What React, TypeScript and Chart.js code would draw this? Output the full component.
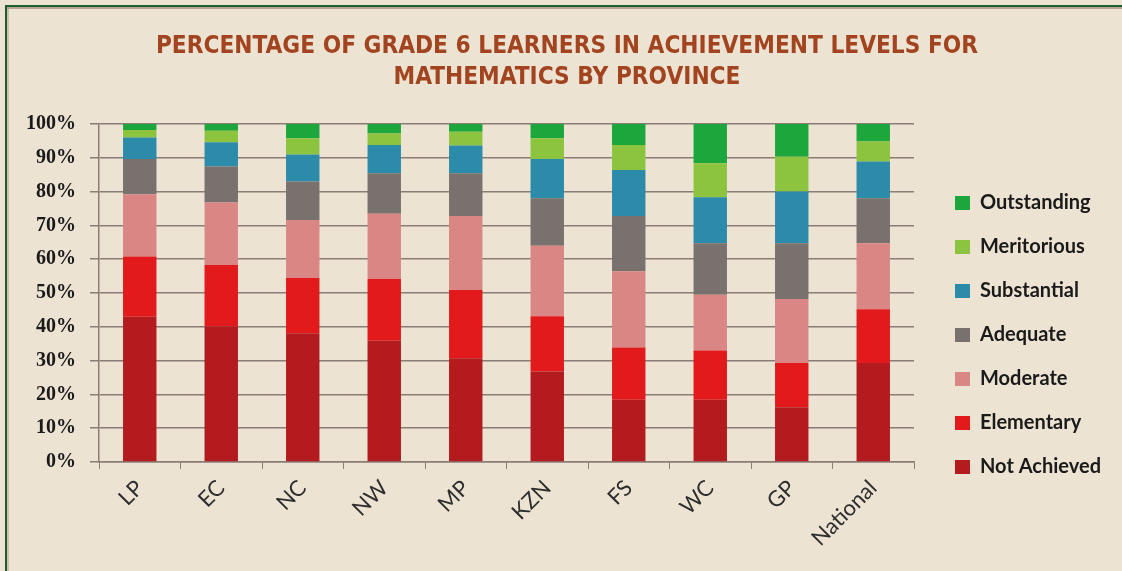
import React, { useEffect, useRef } from 'react';
import { Chart, registerables } from 'chart.js';

Chart.register(...registerables);

const categories = ['LP', 'EC', 'NC', 'NW', 'MP', 'KZN', 'FS', 'WC', 'GP', 'National'];
const notAchieved = [43.0, 40.1, 38.1, 35.9, 30.7, 26.8, 18.4, 18.4, 16.2, 29.3];
const elementary = [17.8, 18.2, 16.3, 18.2, 20.2, 16.3, 15.5, 14.6, 13.1, 15.9];
const moderate = [18.4, 18.5, 17.2, 19.3, 21.9, 20.9, 22.5, 16.5, 18.9, 19.5];
const adequate = [10.4, 10.6, 11.4, 12.0, 12.6, 14.0, 16.4, 15.2, 16.5, 13.3];
const substantial = [6.4, 7.2, 8.0, 8.4, 8.2, 11.6, 13.6, 13.6, 15.3, 10.9];
const meritorious = [2.2, 3.4, 4.8, 3.4, 4.1, 6.2, 7.4, 10.1, 10.3, 5.9];
const outstanding = [1.8, 2.0, 4.2, 2.8, 2.3, 4.2, 6.2, 11.6, 9.7, 5.2];

const seriesNames = ['Not Achieved', 'Elementary', 'Moderate', 'Adequate', 'Substantial', 'Meritorious', 'Outstanding'];
const seriesColors = ['#B31B1F', '#E31A1C', '#D98684', '#78716E', '#2B8BA9', '#8DC43F', '#1DA63C'];
const seriesValues = [notAchieved, elementary, moderate, adequate, substantial, meritorious, outstanding];

const titleLines = ['PERCENTAGE OF GRADE 6 LEARNERS IN ACHIEVEMENT LEVELS FOR', 'MATHEMATICS BY PROVINCE'];

const BG = '#ECE3D3';
const GRID = '#8A7D75';

export default function App() {
  const ref = useRef<HTMLCanvasElement>(null);

  useEffect(() => {
    if (!ref.current) return;
    const placer = {
      id: 'placer',
      afterLayout(chart: any) {
        const lg = chart.legend;
        if (lg) {
          lg.left = 931;
          lg.right = 1122;
          lg.width = 1122 - 931;
          lg.top = 169;
          lg.bottom = 571;
          lg.height = 571 - 169;
        }
        const t = chart.titleBlock;
        if (t) {
          t.left = 12;
          t.right = 1122;
          t.width = 1110;
        }
      },
    };
    const chart = new Chart(ref.current, {
      type: 'bar',
      data: {
        labels: categories,
        datasets: seriesNames.map((name, i) => ({
          label: name,
          data: seriesValues[i],
          backgroundColor: seriesColors[i],
          borderWidth: 0,
          categoryPercentage: 1,
          barPercentage: 0.41,
        })),
      },
      options: {
        responsive: false,
        animation: false,
        devicePixelRatio: 1,
        layout: { padding: { left: 12, right: 58, top: 0, bottom: 0 } },
        plugins: {
          title: {
            display: true,
            text: titleLines,
            color: '#A2441F',
            font: { family: '"Liberation Sans Narrow", "DejaVu Sans Condensed", "Liberation Sans", sans-serif', size: 24.2, weight: 'bold', lineHeight: 1.28 },
            padding: { top: 31, bottom: 31 },
          },
          legend: {
            display: true,
            position: 'right',
            align: 'start',
            reverse: true,
            maxWidth: 150,
            labels: {
              boxWidth: 15,
              boxHeight: 14,
              padding: 24,
              color: '#1A1A1A',
              font: { family: 'Lato, "Open Sans", sans-serif', size: 20, weight: 'bold' },
            },
          },
          tooltip: { enabled: false },
        },
        scales: {
          x: {
            stacked: true,
            afterFit: (s: any) => { s.height = 109; },
            grid: { display: true, drawOnChartArea: false, drawTicks: true, tickLength: 7, color: GRID, offset: true },
            border: { display: true, color: GRID, width: 1.5 },
            ticks: {
              autoSkip: false,
              minRotation: 45,
              maxRotation: 45,
              padding: 6,
              color: '#2E2E2E',
              font: { family: 'Lato, "Open Sans", sans-serif', size: 22 },
            },
          },
          y: {
            stacked: true,
            min: 0,
            max: 100,
            afterFit: (s: any) => { s.width = 87; },
            grid: { color: GRID, lineWidth: 1.5, tickLength: 9, drawTicks: true },
            border: { display: true, color: GRID, width: 1.5 },
            ticks: {
              stepSize: 10,
              padding: 14,
              color: '#1A1A1A',
              font: { family: '"Liberation Serif", "DejaVu Serif", serif', size: 20, weight: 'bold' },
              callback: (v: any) => v + '%',
            },
          },
        },
      },
      plugins: [placer],
    });
    return () => chart.destroy();
  }, []);

  return (
    <div style={{ position: 'absolute', left: 0, top: 0, width: 1122, height: 571, background: BG, overflow: 'hidden' }}>
      <div style={{ position: 'absolute', left: 5, top: 5, right: 0, height: 2, background: '#1B5E2C' }} />
      <div style={{ position: 'absolute', left: 7, top: 7, right: 0, height: 2, background: '#B9A499' }} />
      <div style={{ position: 'absolute', left: 5, top: 5, width: 2, bottom: 0, background: '#1B5E2C' }} />
      <div style={{ position: 'absolute', left: 7, top: 9, width: 2, bottom: 0, background: '#CDBDB1' }} />
      <canvas ref={ref} width={1122} height={571} style={{ position: 'absolute', left: 0, top: 0, width: 1122, height: 571 }} />
    </div>
  );
}
